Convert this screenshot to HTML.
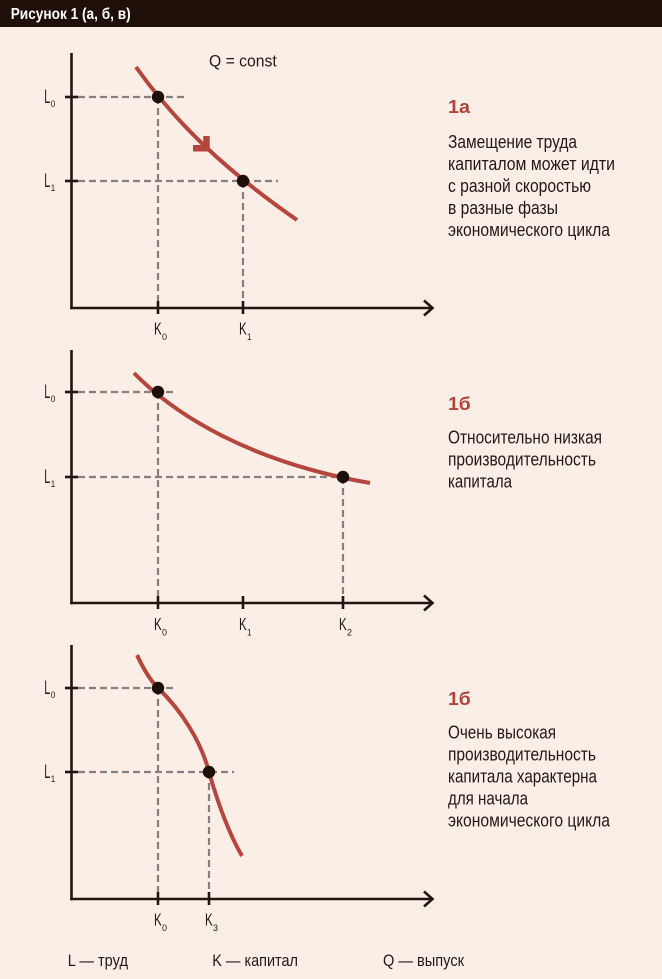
<!DOCTYPE html>
<html><head><meta charset="utf-8"><style>
html,body{margin:0;padding:0;background:#fbeee6;}
svg{display:block;}
text{font-family:"Liberation Sans Narrow","Liberation Sans","Noto Sans CJK SC",sans-serif;}
.ax{stroke:#231510;stroke-width:2.6;fill:none;}
.tk{stroke:#231510;stroke-width:2.6;}
.ds{stroke:#858080;stroke-width:2.2;stroke-dasharray:7 4;fill:none;}
.cv{stroke:#b5463e;stroke-width:4;fill:none;stroke-linecap:butt;}
.dt{fill:#1e1008;}
.lb{fill:#231814;font-size:17.5px;}
.ll{fill:#231814;font-size:19px;}
.sb{fill:#231814;font-size:9.5px;}
.hd{fill:#b0433a;font-size:18px;font-weight:bold;}
.bt{fill:#231815;font-size:18px;}
.lg{fill:#231815;font-size:17px;}
</style></head><body>
<svg width="662" height="979" viewBox="0 0 662 979" xmlns="http://www.w3.org/2000/svg">
<rect x="0" y="0" width="662" height="979" fill="#fbeee6"/>
<rect x="0" y="0" width="662" height="27" fill="#1e0f08"/>
<text x="10.7" y="19" fill="#ffffff" font-size="16" font-weight="bold" textLength="120" lengthAdjust="spacingAndGlyphs">Рисунок 1 (а, б, в)</text>

<!-- Chart 1 -->
<path class="ds" d="M78,97 H185 M78,181 H278 M158,97 V301 M243,181 V301"/>
<line class="ax" x1="71.5" y1="53" x2="71.5" y2="309.3"/>
<line class="ax" x1="70.2" y1="308" x2="432" y2="308"/>
<polyline class="ax" points="424,300.5 432.5,308 424,315.5"/>
<line class="tk" x1="65" y1="97" x2="78" y2="97"/>
<line class="tk" x1="65" y1="181" x2="78" y2="181"/>
<line class="tk" x1="158" y1="301" x2="158" y2="314"/>
<line class="tk" x1="243" y1="301" x2="243" y2="314"/>
<path class="cv" d="M136,67 C175,122 225,170 297,220"/>
<path d="M193,148.3 H206.5 V136" stroke="#b5463e" stroke-width="6.5" fill="none" stroke-linejoin="miter"/>
<circle class="dt" cx="158" cy="97" r="6.2"/>
<circle class="dt" cx="243" cy="181" r="6.2"/>
<text class="ll" x="44.3" y="102.8" textLength="6" lengthAdjust="spacingAndGlyphs">L</text>
<text class="sb" x="50.7" y="107.2" textLength="4.5" lengthAdjust="spacingAndGlyphs">0</text>
<text class="ll" x="44.3" y="186.8" textLength="6" lengthAdjust="spacingAndGlyphs">L</text>
<text class="sb" x="50.7" y="191.2" textLength="4.5" lengthAdjust="spacingAndGlyphs">1</text>
<text class="lb" x="154" y="334.3" textLength="7.7" lengthAdjust="spacingAndGlyphs">K</text>
<text class="sb" x="162" y="340.2" textLength="5" lengthAdjust="spacingAndGlyphs">0</text>
<text class="lb" x="239" y="334.3" textLength="7.7" lengthAdjust="spacingAndGlyphs">K</text>
<text class="sb" x="247" y="340.2" textLength="4.5" lengthAdjust="spacingAndGlyphs">1</text>
<text class="lg" x="209" y="66.7" textLength="67.7" lengthAdjust="spacingAndGlyphs">Q = const</text>

<text class="hd" x="448" y="113" textLength="22" lengthAdjust="spacingAndGlyphs">1а</text>
<text class="bt" x="448" y="148" textLength="129" lengthAdjust="spacingAndGlyphs">Замещение труда</text>
<text class="bt" x="448" y="170" textLength="167" lengthAdjust="spacingAndGlyphs">капиталом может идти</text>
<text class="bt" x="448" y="192" textLength="143" lengthAdjust="spacingAndGlyphs">с разной скоростью</text>
<text class="bt" x="448" y="214" textLength="110" lengthAdjust="spacingAndGlyphs">в разные фазы</text>
<text class="bt" x="448" y="236" textLength="162" lengthAdjust="spacingAndGlyphs">экономического цикла</text>

<!-- Chart 2 -->
<path class="ds" d="M78,392 H177 M78,477 H343 M158,392 V596 M343,477 V596"/>
<line class="ax" x1="71.5" y1="350" x2="71.5" y2="604.3"/>
<line class="ax" x1="70.2" y1="603" x2="432" y2="603"/>
<polyline class="ax" points="424,595.5 432.5,603 424,610.5"/>
<line class="tk" x1="65" y1="392" x2="78" y2="392"/>
<line class="tk" x1="65" y1="477" x2="78" y2="477"/>
<line class="tk" x1="158" y1="596" x2="158" y2="609"/>
<line class="tk" x1="243" y1="596" x2="243" y2="609"/>
<line class="tk" x1="343" y1="596" x2="343" y2="609"/>
<path class="cv" d="M134,373 C175,415 250,462 370,483"/>
<circle class="dt" cx="158" cy="392" r="6.2"/>
<circle class="dt" cx="343" cy="477" r="6.2"/>
<text class="ll" x="44.3" y="397.8" textLength="6" lengthAdjust="spacingAndGlyphs">L</text>
<text class="sb" x="50.7" y="402.2" textLength="4.5" lengthAdjust="spacingAndGlyphs">0</text>
<text class="ll" x="44.3" y="482.8" textLength="6" lengthAdjust="spacingAndGlyphs">L</text>
<text class="sb" x="50.7" y="487.2" textLength="4.5" lengthAdjust="spacingAndGlyphs">1</text>
<text class="lb" x="154" y="629.8" textLength="7.7" lengthAdjust="spacingAndGlyphs">K</text>
<text class="sb" x="162" y="635.7" textLength="5" lengthAdjust="spacingAndGlyphs">0</text>
<text class="lb" x="239" y="629.8" textLength="7.7" lengthAdjust="spacingAndGlyphs">K</text>
<text class="sb" x="247" y="635.7" textLength="4.5" lengthAdjust="spacingAndGlyphs">1</text>
<text class="lb" x="339" y="629.8" textLength="7.7" lengthAdjust="spacingAndGlyphs">K</text>
<text class="sb" x="347" y="635.7" textLength="5" lengthAdjust="spacingAndGlyphs">2</text>

<text class="hd" x="448" y="410" textLength="22.7" lengthAdjust="spacingAndGlyphs">1б</text>
<text class="bt" x="448" y="443.3" textLength="154" lengthAdjust="spacingAndGlyphs">Относительно низкая</text>
<text class="bt" x="448" y="465.3" textLength="148" lengthAdjust="spacingAndGlyphs">производительность</text>
<text class="bt" x="448" y="487.3" textLength="64" lengthAdjust="spacingAndGlyphs">капитала</text>

<!-- Chart 3 -->
<path class="ds" d="M78,688 H177 M78,772 H234 M158,688 V892 M209,772 V892"/>
<line class="ax" x1="71.5" y1="645" x2="71.5" y2="900.3"/>
<line class="ax" x1="70.2" y1="899" x2="432" y2="899"/>
<polyline class="ax" points="424,891.5 432.5,899 424,906.5"/>
<line class="tk" x1="65" y1="688" x2="78" y2="688"/>
<line class="tk" x1="65" y1="772" x2="78" y2="772"/>
<line class="tk" x1="158" y1="892" x2="158" y2="905"/>
<line class="tk" x1="209" y1="892" x2="209" y2="905"/>
<path class="cv" d="M137,655 C143,668 150,680 158,688 C181,710 201,741 209,772 C217,800 228,832 242,856"/>
<circle class="dt" cx="158" cy="688" r="6.2"/>
<circle class="dt" cx="209" cy="772" r="6.2"/>
<text class="ll" x="44.3" y="693.8" textLength="6" lengthAdjust="spacingAndGlyphs">L</text>
<text class="sb" x="50.7" y="698.2" textLength="4.5" lengthAdjust="spacingAndGlyphs">0</text>
<text class="ll" x="44.3" y="777.8" textLength="6" lengthAdjust="spacingAndGlyphs">L</text>
<text class="sb" x="50.7" y="782.2" textLength="4.5" lengthAdjust="spacingAndGlyphs">1</text>
<text class="lb" x="154" y="925.3" textLength="7.7" lengthAdjust="spacingAndGlyphs">K</text>
<text class="sb" x="162" y="931.2" textLength="5" lengthAdjust="spacingAndGlyphs">0</text>
<text class="lb" x="205" y="925.3" textLength="7.7" lengthAdjust="spacingAndGlyphs">K</text>
<text class="sb" x="213" y="931.2" textLength="5" lengthAdjust="spacingAndGlyphs">3</text>

<text class="hd" x="448" y="705" textLength="22.7" lengthAdjust="spacingAndGlyphs">1б</text>
<text class="bt" x="448" y="738.3" textLength="108" lengthAdjust="spacingAndGlyphs">Очень высокая</text>
<text class="bt" x="448" y="760.3" textLength="148" lengthAdjust="spacingAndGlyphs">производительность</text>
<text class="bt" x="448" y="782.3" textLength="149" lengthAdjust="spacingAndGlyphs">капитала характерна</text>
<text class="bt" x="448" y="804.3" textLength="80" lengthAdjust="spacingAndGlyphs">для начала</text>
<text class="bt" x="448" y="826.3" textLength="162" lengthAdjust="spacingAndGlyphs">экономического цикла</text>

<!-- Legend -->
<text class="lg" x="67.7" y="966" textLength="60.3" lengthAdjust="spacingAndGlyphs">L — труд</text>
<text class="lg" x="212.3" y="966" textLength="85.7" lengthAdjust="spacingAndGlyphs">K — капитал</text>
<text class="lg" x="383" y="966" textLength="81" lengthAdjust="spacingAndGlyphs">Q — выпуск</text>
</svg>
</body></html>
